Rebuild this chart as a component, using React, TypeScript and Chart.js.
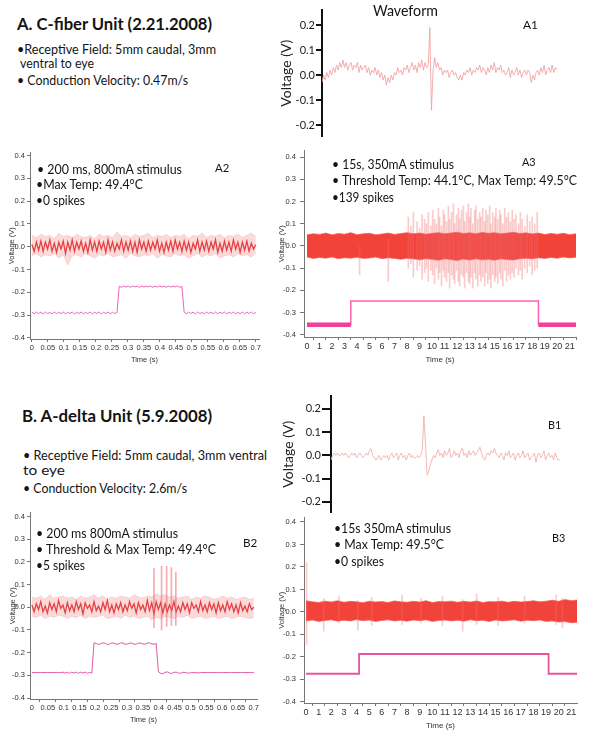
import React, { useEffect, useLayoutEffect, useRef } from "react";
import { Chart, registerables } from "chart.js";

Chart.register(...registerables);

// ---------------- data ----------------
const VOLT_TICKS_WIDE = [-0.4, -0.3, -0.2, -0.1, 0, 0.1, 0.2, 0.3, 0.4];
const VOLT_TICKS_WAVE = [-0.2, -0.1, 0, 0.1, 0.2];
const TIME_TICKS_SHORT = [0, 0.05, 0.1, 0.15, 0.2, 0.25, 0.3, 0.35, 0.4, 0.45, 0.5, 0.55, 0.6, 0.65, 0.7];
const TIME_TICKS_LONG = [0, 1, 2, 3, 4, 5, 6, 7, 8, 9, 10, 11, 12, 13, 14, 15, 16, 17, 18, 19, 20, 21];

// sampling intervals (s)
const CORE_STEP = 0.007;
const HALO_STEP = 0.014;
const BAND_STEP = 0.5;

// A1 waveform (V), one value per sample
const A1_WAVE = [
  -0.03, 0.0, -0.02, 0.01, -0.01, 0.02, 0.0,
  0.03, 0.01, 0.04, 0.02, 0.05, 0.03, 0.06,
  0.03, 0.05, 0.02, 0.04, 0.05, 0.02, 0.04, 0.03, 0.05, 0.01, 0.04, 0.02, 0.03, 0.04,
  0.01, 0.03, 0.0, 0.02, 0.01, 0.03, 0.0, 0.02, -0.01, 0.01,
  -0.02, 0.0, -0.04, -0.01, -0.03, 0.0, -0.02,
  0.01, 0.0, 0.03, 0.01, 0.02, 0.0, 0.03, 0.02,
  0.04, 0.01, 0.03, 0.05, 0.02, 0.04, 0.01, 0.05, 0.03, 0.06, 0.02, 0.05, 0.03, 0.04,
  0.19, -0.14, 0.02,
  0.07, 0.03, 0.05, 0.02,
  0.03, 0.0, 0.02, 0.01, 0.02, -0.01, 0.01, 0.02, 0.0, 0.01,
  -0.01, -0.02, 0.0, -0.02,
  0.01, 0.0, 0.02, 0.01, 0.03, 0.0, 0.02, 0.01, 0.03, 0.02, 0.04, 0.01, 0.03, 0.02, 0.0, 0.03, 0.01, 0.04, 0.02, 0.05, 0.01, 0.03, 0.02, 0.04, 0.01,
  0.02, 0.0, 0.01, 0.03, -0.01, 0.02, 0.0, 0.01, 0.03, 0.0, 0.02, -0.01, 0.01, 0.02, 0.0, 0.02, 0.01,
  -0.03, 0.0, -0.02, 0.01,
  0.02, 0.0, 0.03, 0.01, 0.04, 0.0, 0.02, 0.03, 0.01, 0.04, 0.01, 0.03, 0.02,
];

// B1 waveform (V)
const B1_WAVE = [
  -0.02, 0.0, 0.01, 0.0, 0.01, 0.0, 0.0, 0.01, 0.0, 0.01, 0.0, -0.01, 0.0, 0.01, 0.0, 0.01, -0.01, 0.0, 0.01, 0.0, -0.01, 0.0,
  0.01, 0.0, 0.02, 0.03, 0.0,
  -0.01, -0.02, -0.01, 0.0, -0.02, -0.01, 0.0, -0.01,
  0.0, -0.02, 0.0, 0.01, -0.01, 0.0, 0.01, -0.02, 0.0, 0.01, -0.01, 0.0, -0.02, 0.0, 0.01, -0.01, 0.0, -0.01,
  -0.01, 0.0, -0.01, 0.0, 0.02,
  0.17, 0.05, -0.085, -0.07, -0.04,
  -0.02, 0.0, -0.01, 0.01, 0.025,
  0.0, 0.01, -0.01, 0.02, 0.0, 0.01, 0.03, -0.01, 0.0, 0.02, 0.0, 0.01, -0.01, 0.02, 0.03, 0.0, 0.01, -0.01, 0.02, 0.0, 0.01, 0.02, 0.0, 0.01, 0.02,
  0.035, 0.01, -0.01, -0.02, 0.0,
  0.01, 0.0, 0.02, 0.01, 0.03, 0.01,
  0.0, -0.01, 0.01, 0.0, -0.02, 0.01, 0.0, 0.02, -0.01, 0.0, 0.01, -0.02, 0.0, 0.01, -0.01, 0.0, 0.02, -0.01, 0.0, 0.01,
  -0.02, -0.01, 0.0, 0.01, -0.03, 0.0, 0.01, -0.01, 0.0, 0.02, -0.02, 0.0, 0.01, -0.01, 0.0, -0.02, 0.01, -0.01, -0.02, -0.02,
];

// A2: recorded trace (filtered core + raw envelope) and stimulus monitor
const A2_CORE = [
  0.01, -0.02, 0.02, -0.015, 0.025, -0.02, 0.02, -0.01, 0.03, -0.02,
  0.015, -0.025, 0.02, -0.01, 0.025, -0.03, 0.02, -0.015, 0.03, -0.02,
  0.02, -0.01, 0.025, -0.02, 0.015, -0.025, 0.03, -0.015, 0.02, -0.02,
  0.025, -0.01, 0.02, -0.025, 0.03, -0.015, 0.02, -0.02, 0.015, -0.01,
  0.03, -0.02, 0.02, -0.015, 0.025, -0.02, 0.02, -0.025, 0.03, -0.01,
  0.02, -0.02, 0.025, -0.015, 0.02, -0.01, 0.03, -0.02, 0.015, -0.025,
  0.02, -0.015, 0.025, -0.02, 0.03, -0.01, 0.02, -0.02, 0.025, -0.015,
  0.02, -0.025, 0.015, -0.01, 0.03, -0.02, 0.02, -0.015, 0.025, -0.02,
  0.02, -0.01, 0.03, -0.025, 0.015, -0.02, 0.025, -0.015, 0.02, -0.02,
  0.03, -0.01, 0.02, -0.025, 0.02, -0.015, 0.025, -0.02, 0.015, -0.01,
  0.01,
];
const A2_HALO_HI = [
  0.05, 0.04, 0.055, 0.045, 0.05, 0.035, 0.06, 0.045, 0.05, 0.04,
  0.055, 0.045, 0.04, 0.05, 0.035, 0.055, 0.045, 0.05, 0.04, 0.065,
  0.045, 0.05, 0.04, 0.055, 0.045, 0.05, 0.06, 0.04, 0.05, 0.045,
  0.055, 0.04, 0.05, 0.045, 0.055, 0.035, 0.05, 0.045, 0.06, 0.04,
  0.05, 0.045, 0.055, 0.04, 0.05, 0.045, 0.055, 0.04, 0.05, 0.06,
  0.045,
];
const A2_HALO_LO = [
  -0.04, -0.03, -0.045, -0.035, -0.04, -0.03, -0.05, -0.035, -0.08, -0.04,
  -0.035, -0.045, -0.03, -0.04, -0.05, -0.035, -0.04, -0.03, -0.045, -0.04,
  -0.035, -0.05, -0.03, -0.04, -0.045, -0.035, -0.04, -0.03, -0.05, -0.035,
  -0.04, -0.045, -0.03, -0.04, -0.035, -0.05, -0.04, -0.03, -0.045, -0.035,
  -0.04, -0.03, -0.05, -0.04, -0.035, -0.045, -0.03, -0.04, -0.035, -0.045,
  -0.03,
];
const A2_PINK = [
  -0.287, -0.294, -0.286, -0.293, -0.287, -0.295, -0.286, -0.293, -0.288, -0.294,
  -0.286, -0.293, -0.287, -0.294, -0.286, -0.294, -0.287, -0.293, -0.286, -0.295,
  -0.287, -0.293, -0.286, -0.294, -0.288, -0.293, -0.286, -0.294, -0.287, -0.293,
  -0.286, -0.295, -0.287, -0.293, -0.286, -0.294, -0.287, -0.293, -0.288,
  -0.173, -0.178, -0.172, -0.177, -0.173, -0.178, -0.172, -0.176, -0.173, -0.178,
  -0.172, -0.177, -0.173, -0.176, -0.172, -0.178, -0.173, -0.177, -0.172, -0.176,
  -0.173, -0.178, -0.172, -0.177, -0.173, -0.176, -0.172, -0.178, -0.174,
  -0.287, -0.294, -0.286, -0.293, -0.287, -0.295, -0.286, -0.293, -0.288, -0.294,
  -0.286, -0.293, -0.287, -0.294, -0.286, -0.294, -0.287, -0.293, -0.286, -0.295,
  -0.287, -0.293, -0.286, -0.294, -0.288, -0.293, -0.286, -0.294, -0.287, -0.293,
  -0.286, -0.294, -0.288,
];

// B2
const B2_CORE = [
  0.01, -0.02, 0.015, -0.01, 0.025, -0.02, 0.005, -0.025, 0.02, -0.01,
  0.015, -0.02, 0.03, -0.005, 0.01, -0.025, 0.02, -0.015, 0.01, -0.02,
  0.025, -0.01, 0.015, -0.03, 0.02, -0.005, 0.01, -0.02, 0.025, -0.015,
  0.005, -0.02, 0.02, -0.01, 0.03, -0.02, 0.01, -0.025, 0.015, -0.01,
  0.02, -0.02, 0.01, -0.015, 0.025, -0.005, 0.015, -0.025, 0.02, -0.01,
  0.01, -0.02, 0.03, -0.015, 0.02, -0.03, 0.025, -0.01, 0.02, -0.025,
  0.015, -0.02, 0.01, -0.015, 0.025, -0.02, 0.005, -0.02, 0.02, -0.01,
  0.015, -0.025, 0.02, -0.005, 0.01, -0.02, 0.025, -0.015, 0.01, -0.02,
  0.02, -0.01, 0.015, -0.025, 0.02, -0.015, 0.01, -0.02, 0.025, -0.01,
  0.015, -0.02, 0.01, -0.025, 0.02, -0.015, 0.005, -0.02, 0.015, -0.01,
  0.0,
];
const B2_HALO_HI = [
  0.045, 0.04, 0.05, 0.035, 0.055, 0.04, 0.045, 0.05, 0.04, 0.045,
  0.035, 0.05, 0.04, 0.045, 0.055, 0.04, 0.05, 0.035, 0.045, 0.04,
  0.05, 0.045, 0.04, 0.055, 0.045, 0.04, 0.05, 0.045, 0.06, 0.05,
  0.055, 0.045, 0.05, 0.04, 0.045, 0.05, 0.035, 0.045, 0.04, 0.05,
  0.045, 0.035, 0.04, 0.05, 0.04, 0.045, 0.035, 0.04, 0.045, 0.035,
  0.04,
];
const B2_HALO_LO = [
  -0.04, -0.045, -0.035, -0.05, -0.04, -0.045, -0.035, -0.04, -0.05, -0.04,
  -0.045, -0.035, -0.05, -0.04, -0.045, -0.04, -0.035, -0.05, -0.045, -0.04,
  -0.05, -0.035, -0.045, -0.04, -0.05, -0.045, -0.04, -0.055, -0.045, -0.05,
  -0.04, -0.045, -0.05, -0.04, -0.045, -0.035, -0.05, -0.045, -0.04, -0.05,
  -0.045, -0.04, -0.05, -0.045, -0.04, -0.05, -0.045, -0.04, -0.045, -0.05,
  -0.045,
];
const B2_PINK = [
  -0.288, -0.288, -0.288, -0.288, -0.288, -0.288, -0.288, -0.288, -0.288, -0.288,
  -0.288, -0.288, -0.288, -0.288, -0.286, -0.29, -0.287, -0.291, -0.286, -0.29,
  -0.286, -0.291, -0.286, -0.29, -0.286, -0.291, -0.287, -0.29,
  -0.157, -0.16, -0.164, -0.161, -0.157, -0.159, -0.164, -0.162, -0.157, -0.159,
  -0.163, -0.162, -0.157, -0.158, -0.163, -0.162, -0.158, -0.158, -0.163, -0.163,
  -0.158, -0.158, -0.162, -0.163, -0.158, -0.157, -0.162, -0.163, -0.16,
  -0.285, -0.291, -0.293, -0.287, -0.285, -0.29, -0.292, -0.287, -0.286, -0.29,
  -0.291, -0.287, -0.287, -0.29, -0.29, -0.288, -0.288, -0.289, -0.289, -0.288,
  -0.288, -0.288, -0.288, -0.288, -0.288, -0.288, -0.288, -0.288, -0.288, -0.288,
  -0.288, -0.288, -0.288, -0.288, -0.288, -0.288, -0.288, -0.288, -0.288, -0.288,
  -0.288, -0.288, -0.288, -0.288,
];
const B2_SPIKE_T = [0.385, 0.409, 0.425, 0.44, 0.454];
const B2_SPIKE_HI = [0.17, 0.18, 0.18, 0.175, 0.155];
const B2_SPIKE_LO = [-0.09, -0.1, -0.085, -0.08, -0.08];

// A3
const A3_BAND_HI = [
  0.05, 0.055, 0.052, 0.058, 0.05, 0.056, 0.053, 0.06, 0.051, 0.055,
  0.057, 0.05, 0.054, 0.058, 0.052, 0.056, 0.06, 0.055, 0.058, 0.053,
  0.057, 0.06, 0.055, 0.058, 0.062, 0.056, 0.059, 0.055, 0.061, 0.057,
  0.06, 0.055, 0.058, 0.062, 0.056, 0.059, 0.054, 0.058, 0.052, 0.056,
  0.053, 0.057, 0.051, 0.055,
];
const A3_BAND_LO = [
  -0.05, -0.056, -0.052, -0.055, -0.05, -0.057, -0.053, -0.055, -0.051, -0.056,
  -0.054, -0.05, -0.057, -0.053, -0.056, -0.06, -0.055, -0.058, -0.062, -0.057,
  -0.06, -0.064, -0.058, -0.061, -0.065, -0.059, -0.063, -0.058, -0.062, -0.06,
  -0.064, -0.058, -0.061, -0.063, -0.057, -0.055, -0.058, -0.053, -0.056, -0.052,
  -0.055, -0.05, -0.054, -0.051,
];
const A3_SPIKE_T = [
  4.2, 6.5,
  8.1, 8.3, 8.5, 8.8, 9.0, 9.2, 9.4, 9.55, 9.7, 9.9,
  10.05, 10.2, 10.35, 10.5, 10.6, 10.75, 10.9, 11.0, 11.15, 11.3,
  11.4, 11.55, 11.7, 11.8, 11.95, 12.1, 12.2, 12.35, 12.5, 12.6,
  12.75, 12.9, 13.0, 13.1, 13.25, 13.4, 13.5, 13.65, 13.8, 13.9,
  14.05, 14.2, 14.3, 14.45, 14.6, 14.7, 14.85, 15.0, 15.1, 15.25,
  15.4, 15.5, 15.65, 15.8, 15.95, 16.1, 16.25, 16.4, 16.55, 16.7,
  16.9, 17.05, 17.2, 17.4, 17.6, 17.8, 18.0, 18.2, 18.4,
];
const A3_SPIKE_HI = [
  0.0, 0.03,
  0.13, 0.09, 0.15, 0.11, 0.08, 0.14, 0.12, 0.1, 0.15, 0.09,
  0.16, 0.12, 0.1, 0.17, 0.13, 0.09, 0.16, 0.14, 0.11, 0.18,
  0.12, 0.15, 0.19, 0.1, 0.14, 0.17, 0.12, 0.16, 0.18, 0.11,
  0.15, 0.19, 0.13, 0.17, 0.1, 0.16, 0.18, 0.12, 0.15, 0.13,
  0.17, 0.11, 0.16, 0.14, 0.18, 0.1, 0.15, 0.13, 0.17, 0.12,
  0.16, 0.14, 0.1, 0.17, 0.13, 0.15, 0.11, 0.16, 0.12, 0.14,
  0.1, 0.15, 0.12, 0.09, 0.14, 0.11, 0.13, 0.1, 0.15,
];
const A3_SPIKE_LO = [
  -0.13, -0.16,
  -0.1, -0.08, -0.14, -0.11, -0.09, -0.15, -0.12, -0.1, -0.16, -0.11,
  -0.13, -0.17, -0.1, -0.15, -0.12, -0.18, -0.11, -0.14, -0.16, -0.12,
  -0.19, -0.13, -0.15, -0.17, -0.11, -0.16, -0.18, -0.13, -0.14, -0.19,
  -0.12, -0.16, -0.17, -0.14, -0.19, -0.12, -0.15, -0.18, -0.13, -0.16,
  -0.14, -0.18, -0.12, -0.17, -0.15, -0.19, -0.13, -0.16, -0.14, -0.17,
  -0.12, -0.15, -0.18, -0.11, -0.16, -0.13, -0.15, -0.12, -0.14, -0.1,
  -0.13, -0.11, -0.15, -0.1, -0.12, -0.09, -0.13, -0.11, -0.1,
];
const A3_STIM_T = [0, 3.5, 18.5, 21.5];
const A3_STIM_V = [-0.355, -0.248, -0.355, -0.355];

// B3
const B3_BAND_HI = [
  0.05, 0.045, 0.042, 0.048, 0.044, 0.05, 0.043, 0.047, 0.045, 0.041,
  0.048, 0.044, 0.046, 0.042, 0.049, 0.045, 0.043, 0.047, 0.044, 0.05,
  0.042, 0.046, 0.045, 0.048, 0.043, 0.047, 0.044, 0.049, 0.042, 0.046,
  0.045, 0.048, 0.043, 0.047, 0.044, 0.046, 0.05, 0.045, 0.048, 0.052,
  0.047, 0.055, 0.05, 0.053,
];
const B3_BAND_LO = [
  -0.04, -0.036, -0.042, -0.038, -0.035, -0.041, -0.037, -0.04, -0.034, -0.039,
  -0.036, -0.042, -0.038, -0.035, -0.04, -0.037, -0.041, -0.036, -0.039, -0.035,
  -0.042, -0.038, -0.036, -0.04, -0.037, -0.041, -0.035, -0.039, -0.037, -0.042,
  -0.036, -0.04, -0.038, -0.035, -0.041, -0.037, -0.039, -0.036, -0.042, -0.04,
  -0.045, -0.043, -0.048, -0.046,
];
const B3_SPIKE_T = [0.05, 1.4, 2.6, 4.1, 5.2, 7.6, 9.1, 10.8, 12.4, 13.5, 15.2, 17.3, 19.8, 20.3];
const B3_SPIKE_HI = [0.22, 0.06, 0.07, 0.05, 0.065, 0.075, 0.06, 0.07, 0.055, 0.08, 0.065, 0.07, 0.075, 0.06];
const B3_SPIKE_LO = [-0.145, -0.085, -0.05, -0.08, -0.06, -0.055, -0.05, -0.06, -0.085, -0.055, -0.06, -0.05, -0.055, -0.07];
const B3_STIM_T = [0, 4.2, 19.2, 21.45];
const B3_STIM_V = [-0.275, -0.187, -0.275, -0.275];

// ---------------- styling ----------------
const TEXT_FONT = "Lato, 'Open Sans', sans-serif";
const AXIS_FONT = "'Liberation Sans Narrow', 'Liberation Sans', Arial, sans-serif";
const RED_BAND = "#f2433b";
const RED_CORE = "rgba(228,48,52,0.9)";
const RED_HALO = "rgba(242,120,120,0.27)";
const SPIKE_LIGHT = "rgba(240,110,110,0.36)";

// ---------------- helpers ----------------
const series = (vals: number[], step: number) => vals.map((y, i) => ({ x: i * step, y }));
const spikes = (t: number[], hi: number[], lo: number[]) => t.map((x, i) => ({ x, y: [lo[i], hi[i]] }));
const steps = (t: number[], v: number[]) => t.map((x, i) => ({ x, y: v[i] }));
const baseParts = (t: number[], v: number[]) => {
  const base = v[0];
  const out: any[] = [];
  for (let i = 0; i < t.length - 1; i++) {
    if (v[i] === base) {
      out.push({ x: t[i], y: base }, { x: t[i + 1], y: base }, { x: t[i + 1], y: null });
    }
  }
  return out;
};
const fixedTicks = (list: number[]) => (s: any) => {
  s.ticks = list.map((v) => ({ value: v }));
};

function baseOptions(padding: any, scales: any) {
  return {
    responsive: false,
    animation: false,
    devicePixelRatio: 1,
    events: [],
    layout: { padding },
    plugins: { legend: { display: false }, tooltip: { enabled: false } },
    elements: { point: { radius: 0 }, line: { tension: 0 } },
    scales,
  };
}

function voltAxis(o: any) {
  return {
    type: "linear",
    min: o.min,
    max: o.max,
    afterFit: (s: any) => {
      s.width = o.w;
    },
    afterBuildTicks: fixedTicks(o.ticks),
    grid: { display: true, drawOnChartArea: false, drawTicks: true, tickLength: o.tickLen, color: o.color, lineWidth: o.lw },
    border: { display: true, color: o.color, width: o.lw },
    ticks: {
      autoSkip: false,
      padding: o.pad,
      color: o.labelColor,
      font: { family: o.family, size: o.size },
      callback: (v: any) => Number(v).toFixed(1),
    },
    title: {
      display: true,
      text: "Voltage (V)",
      color: o.titleColor,
      font: { family: o.family, size: o.titleSize },
      padding: { top: o.titlePad, bottom: 0 },
    },
  };
}

function timeAxis(o: any) {
  return {
    type: "linear",
    min: o.min,
    max: o.max,
    offset: false,
    afterFit: (s: any) => {
      s.height = o.h;
    },
    afterBuildTicks: fixedTicks(o.ticks),
    grid: { display: true, drawOnChartArea: false, drawTicks: true, tickLength: 3, color: "#777", lineWidth: 1 },
    border: { display: true, color: "#777", width: 1 },
    ticks: {
      autoSkip: false,
      maxRotation: 0,
      minRotation: 0,
      padding: o.pad,
      color: "#333",
      font: { family: AXIS_FONT, size: o.size },
      callback: (v: any) => String(v),
    },
    title: {
      display: true,
      text: "Time (s)",
      color: "#333",
      font: { family: AXIS_FONT, size: o.titleSize },
      padding: { top: 0, bottom: o.titlePad },
    },
  };
}

// ---------------- chart configs ----------------
function waveConfig(wave: number[], color: string, yMin: number, yMax: number, yW: number, tickLen: number) {
  return {
    type: "line",
    data: {
      datasets: [{ data: series(wave, 1), borderColor: color, borderWidth: 1, fill: false }],
    },
    options: baseOptions(
      { top: 8, right: 2, bottom: 4, left: 0 },
      {
        x: { type: "linear", display: false, min: 0, max: wave.length - 1 },
        y: voltAxis({
          min: yMin, max: yMax, w: yW, ticks: VOLT_TICKS_WAVE, tickLen, color: "#111", lw: 2,
          pad: 1, labelColor: "#222", family: TEXT_FONT, size: 11, titleColor: "#222", titleSize: 14, titlePad: 2.3,
        }),
      }
    ),
  };
}

function shortConfig(o: any) {
  const datasets: any[] = [
    { data: series(o.hi, HALO_STEP), borderColor: "rgba(242,130,130,0.3)", borderWidth: 0.8, fill: "+1", backgroundColor: RED_HALO, order: 5 },
    { data: series(o.lo, HALO_STEP), borderColor: "rgba(242,130,130,0.3)", borderWidth: 0.8, fill: false, order: 4 },
    { data: series(o.core, CORE_STEP), borderColor: RED_CORE, borderWidth: 1.3, fill: false, order: 3 },
    { data: series(o.pink, CORE_STEP), borderColor: o.pinkColor, borderWidth: 1, fill: false, order: 1 },
  ];
  if (o.spT) {
    datasets.push({
      type: "bar", data: spikes(o.spT, o.spHi, o.spLo), backgroundColor: "rgba(236,90,95,0.5)",
      barThickness: 1, borderWidth: 0, order: 2,
    });
  }
  return {
    type: "line",
    data: { datasets },
    options: baseOptions(
      { top: 6, right: 8, bottom: 0, left: 0 },
      {
        x: timeAxis({ min: -0.006, max: 0.71, h: 30, ticks: TIME_TICKS_SHORT, pad: 1.5, size: 7.5, titleSize: 7.5, titlePad: 4.5 }),
        y: voltAxis({
          min: o.yMin, max: o.yMax, w: 30, ticks: VOLT_TICKS_WIDE, tickLen: 3, color: "#777", lw: 1,
          pad: 2, labelColor: "#333", family: AXIS_FONT, size: 7.5, titleColor: "#333", titleSize: 7.5, titlePad: o.titlePad,
        }),
      }
    ),
  };
}

function longConfig(o: any) {
  const datasets: any[] = [
    { data: series(o.hi, BAND_STEP), borderColor: "rgba(242,90,85,0.7)", borderWidth: 1, fill: "+1", backgroundColor: RED_BAND, order: 6 },
    { data: series(o.lo, BAND_STEP), borderColor: "rgba(242,90,85,0.7)", borderWidth: 1, fill: false, order: 5 },
    { type: "bar", data: spikes(o.spT, o.spHi, o.spLo), backgroundColor: SPIKE_LIGHT, barThickness: 1, borderWidth: 0, order: 4 },
    { data: steps(o.stT, o.stV), stepped: true, borderColor: o.pinkColor, borderWidth: o.thinW, fill: false, order: 2 },
  ];
  if (o.thickW) {
    datasets.push({ data: baseParts(o.stT, o.stV), borderColor: o.pinkThick, borderWidth: o.thickW, fill: false, spanGaps: false, order: 1 });
  }
  return {
    type: "line",
    data: { datasets },
    options: baseOptions(
      { top: 6, right: 8, bottom: 0, left: 0 },
      {
        x: timeAxis({ min: o.xMin, max: o.xMax, h: 30, ticks: TIME_TICKS_LONG, pad: 1.6, size: 9, titleSize: 8, titlePad: 2.2 }),
        y: voltAxis({
          min: o.yMin, max: o.yMax, w: 30, ticks: VOLT_TICKS_WIDE, tickLen: 4, color: "#777", lw: 1,
          pad: 4, labelColor: "#333", family: AXIS_FONT, size: 7.5, titleColor: "#333", titleSize: 7.5, titlePad: 3.5,
        }),
      }
    ),
  };
}

// ---------------- panels ----------------
const PANELS = [
  { key: "A1", left: 276, top: 2, width: 283, height: 142, make: () => waveConfig(A1_WAVE, "rgba(240,160,160,0.85)", -0.245, 0.26, 46, 6) },
  { key: "B1", left: 278, top: 388, width: 284, height: 132, make: () => waveConfig(B1_WAVE, "rgba(242,175,175,0.9)", -0.245, 0.255, 53, 9) },
  {
    key: "A2", left: 0, top: 146, width: 267, height: 223,
    make: () => shortConfig({ hi: A2_HALO_HI, lo: A2_HALO_LO, core: A2_CORE, pink: A2_PINK, pinkColor: "#e26ab8", yMin: -0.4044, yMax: 0.4131, titlePad: 7.5 }),
  },
  {
    key: "B2", left: 0, top: 506, width: 265, height: 223,
    make: () => shortConfig({
      hi: B2_HALO_HI, lo: B2_HALO_LO, core: B2_CORE, pink: B2_PINK, pinkColor: "#df5aa2", yMin: -0.4044, yMax: 0.4176, titlePad: 8.5,
      spT: B2_SPIKE_T, spHi: B2_SPIKE_HI, spLo: B2_SPIKE_LO,
    }),
  },
  {
    key: "A3", left: 274, top: 142, width: 310, height: 225,
    make: () => longConfig({
      hi: A3_BAND_HI, lo: A3_BAND_LO, spT: A3_SPIKE_T, spHi: A3_SPIKE_HI, spLo: A3_SPIKE_LO,
      stT: A3_STIM_T, stV: A3_STIM_V, pinkColor: "#ff5fb0", thinW: 1.5, pinkThick: "#f0409a", thickW: 4.5,
      xMin: -0.24, xMax: 21.5, yMin: -0.41, yMax: 0.43,
    }),
  },
  {
    key: "B3", left: 274, top: 509, width: 311, height: 224,
    make: () => longConfig({
      hi: B3_BAND_HI, lo: B3_BAND_LO, spT: B3_SPIKE_T, spHi: B3_SPIKE_HI, spLo: B3_SPIKE_LO,
      stT: B3_STIM_T, stV: B3_STIM_V, pinkColor: "#e8559e", thinW: 1.8, pinkThick: "", thickW: 0,
      xMin: -0.16, xMax: 21.45, yMin: -0.405, yMax: 0.42,
    }),
  },
];

// text blocks: x = left edge, b = baseline, s = font size, w = weight, wd = width in the figure
const TEXTS = [
  { t: "A. C-fiber Unit (2.21.2008)", x: 17, b: 30, s: 17, w: 700, wd: 195 },
  { t: "\u2022Receptive Field: 5mm caudal, 3mm", x: 17, b: 54.5, s: 13, w: 400, wd: 199 },
  { t: "ventral to eye", x: 20, b: 68.5, s: 13, w: 400, wd: 74 },
  { t: "\u2022 Conduction Velocity: 0.47m/s", x: 17, b: 85.5, s: 13, w: 400, wd: 171 },
  { t: "Waveform", x: 373, b: 16.5, s: 15, w: 400, wd: 65 },
  { t: "A1", x: 523, b: 29.3, s: 12, w: 400, wd: 15 },
  { t: "\u2022 200 ms, 800mA stimulus", x: 37, b: 174.3, s: 13, w: 400, wd: 145 },
  { t: "\u2022Max Temp: 49.4\u00b0C", x: 36, b: 190, s: 13, w: 400, wd: 107 },
  { t: "\u20220 spikes", x: 36, b: 206, s: 13, w: 400, wd: 49 },
  { t: "A2", x: 215, b: 172.3, s: 12, w: 400, wd: 14.3 },
  { t: "\u2022 15s, 350mA stimulus", x: 332, b: 170, s: 13, w: 400, wd: 122 },
  { t: "\u2022 Threshold Temp: 44.1\u00b0C, Max Temp: 49.5\u00b0C", x: 332, b: 185.7, s: 13, w: 400, wd: 245 },
  { t: "\u2022139 spikes", x: 332, b: 202.3, s: 13, w: 400, wd: 62 },
  { t: "A3", x: 522, b: 166.7, s: 12, w: 400, wd: 13.7 },
  { t: "B. A-delta Unit (5.9.2008)", x: 22, b: 422.3, s: 17, w: 700, wd: 190 },
  { t: "\u2022 Receptive Field: 5mm caudal, 3mm ventral", x: 23, b: 461, s: 13, w: 400, wd: 244 },
  { t: "to eye", x: 23, b: 476, s: 13, w: 400, wd: 42 },
  { t: "\u2022 Conduction Velocity: 2.6m/s", x: 23, b: 493.3, s: 13, w: 400, wd: 164 },
  { t: "B1", x: 548, b: 429.3, s: 12, w: 400, wd: 13.3 },
  { t: "\u2022 200 ms 800mA stimulus", x: 36, b: 538.3, s: 13, w: 400, wd: 142 },
  { t: "\u2022 Threshold & Max Temp: 49.4\u00b0C", x: 36, b: 554.3, s: 13, w: 400, wd: 180 },
  { t: "\u20225 spikes", x: 36, b: 571, s: 13, w: 400, wd: 49 },
  { t: "B2", x: 243, b: 547.3, s: 12, w: 400, wd: 14.3 },
  { t: "\u202215s 350mA stimulus", x: 334, b: 534, s: 13, w: 400, wd: 117 },
  { t: "\u2022 Max Temp: 49.5\u00b0C", x: 334, b: 550, s: 13, w: 400, wd: 110 },
  { t: "\u20220 spikes", x: 334, b: 566.7, s: 13, w: 400, wd: 50 },
  { t: "B3", x: 552, b: 542.3, s: 12, w: 400, wd: 13.3 },
];

function ChartCanvas({ left, top, width, height, make }: any) {
  const ref = useRef<HTMLCanvasElement>(null);
  useEffect(() => {
    const chart = new Chart(ref.current as HTMLCanvasElement, make());
    return () => chart.destroy();
  }, []);
  return (
    <canvas
      ref={ref}
      width={width}
      height={height}
      style={{ position: "absolute", left, top, width, height }}
    />
  );
}

function FitText({ t, x, b, s, w, wd }: any) {
  const ref = useRef<HTMLDivElement>(null);
  useLayoutEffect(() => {
    const el = ref.current;
    if (!el) return;
    el.style.transform = "none";
    const natural = el.getBoundingClientRect().width;
    if (natural > 0) el.style.transform = `scaleX(${wd / natural})`;
  }, [t, wd, s]);
  return (
    <div
      ref={ref}
      style={{
        position: "absolute",
        left: x,
        top: b - 0.887 * s,
        fontFamily: TEXT_FONT,
        fontSize: s,
        fontWeight: w,
        lineHeight: 1,
        whiteSpace: "nowrap",
        color: "#141414",
        transformOrigin: "0 0",
      }}
    >
      {t}
    </div>
  );
}

export default function App() {
  return (
    <div
      style={{
        position: "absolute",
        left: 0,
        top: 0,
        width: 600,
        height: 736,
        overflow: "hidden",
        background: "#fff",
      }}
    >
      {PANELS.map((p) => (
        <ChartCanvas key={p.key} left={p.left} top={p.top} width={p.width} height={p.height} make={p.make} />
      ))}
      {TEXTS.map((t, i) => (
        <FitText key={i} {...t} />
      ))}
    </div>
  );
}
